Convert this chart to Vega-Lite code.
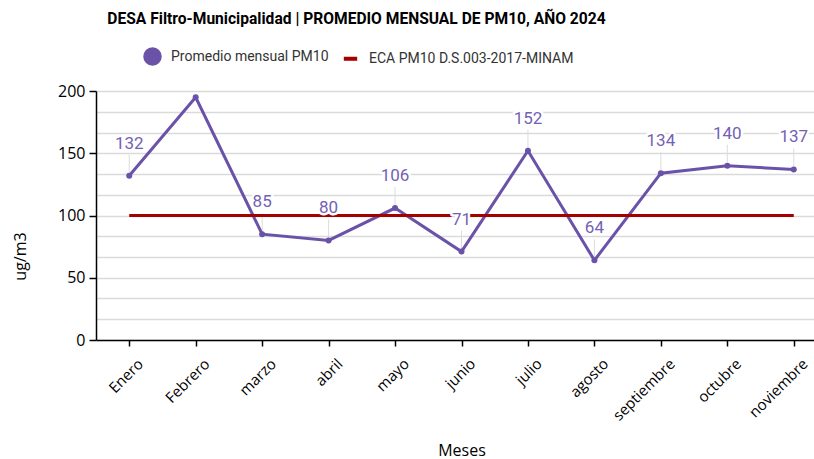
{
  "$schema": "https://vega.github.io/schema/vega-lite/v6.json",
  "width": 731,
  "height": 249,
  "autosize": {"type": "none"},
  "padding": {"left": 96, "top": 91, "right": 10, "bottom": 119},
  "background": "white",
  "title": {
    "text": "DESA Filtro-Municipalidad | PROMEDIO MENSUAL DE PM10, AÑO 2024",
    "font": "Roboto",
    "fontSize": 15.6,
    "fontWeight": "bold",
    "color": "black",
    "anchor": "middle",
    "frame": "group",
    "dx": -105,
    "offset": 19
  },
  "config": {"view": {"stroke": null}},
  "data": {
    "values": [
      {"mes": "Enero", "serie": "Promedio mensual PM10", "valor": 132},
      {"mes": "Febrero", "serie": "Promedio mensual PM10", "valor": 195},
      {"mes": "marzo", "serie": "Promedio mensual PM10", "valor": 85},
      {"mes": "abril", "serie": "Promedio mensual PM10", "valor": 80},
      {"mes": "mayo", "serie": "Promedio mensual PM10", "valor": 106},
      {"mes": "junio", "serie": "Promedio mensual PM10", "valor": 71},
      {"mes": "julio", "serie": "Promedio mensual PM10", "valor": 152},
      {"mes": "agosto", "serie": "Promedio mensual PM10", "valor": 64},
      {"mes": "septiembre", "serie": "Promedio mensual PM10", "valor": 134},
      {"mes": "octubre", "serie": "Promedio mensual PM10", "valor": 140},
      {"mes": "noviembre", "serie": "Promedio mensual PM10", "valor": 137},
      {"mes": "Enero", "serie": "ECA PM10 D.S.003-2017-MINAM", "valor": 100},
      {"mes": "Febrero", "serie": "ECA PM10 D.S.003-2017-MINAM", "valor": 100},
      {"mes": "marzo", "serie": "ECA PM10 D.S.003-2017-MINAM", "valor": 100},
      {"mes": "abril", "serie": "ECA PM10 D.S.003-2017-MINAM", "valor": 100},
      {"mes": "mayo", "serie": "ECA PM10 D.S.003-2017-MINAM", "valor": 100},
      {"mes": "junio", "serie": "ECA PM10 D.S.003-2017-MINAM", "valor": 100},
      {"mes": "julio", "serie": "ECA PM10 D.S.003-2017-MINAM", "valor": 100},
      {"mes": "agosto", "serie": "ECA PM10 D.S.003-2017-MINAM", "valor": 100},
      {"mes": "septiembre", "serie": "ECA PM10 D.S.003-2017-MINAM", "valor": 100},
      {"mes": "octubre", "serie": "ECA PM10 D.S.003-2017-MINAM", "valor": 100},
      {"mes": "noviembre", "serie": "ECA PM10 D.S.003-2017-MINAM", "valor": 100}
    ]
  },
  "encoding": {
    "x": {
      "field": "mes",
      "type": "nominal",
      "sort": ["Enero", "Febrero", "marzo", "abril", "mayo", "junio", "julio", "agosto", "septiembre", "octubre", "noviembre"],
      "scale": {"type": "point", "padding": 0.5},
      "axis": {
        "title": "Meses",
        "titleFont": "Open Sans",
        "titleFontSize": 16,
        "titleFontWeight": "normal",
        "titleColor": "black",
        "titleY": 110,
        "titleBaseline": "middle",
        "labelAngle": -45,
        "labelFont": "Open Sans",
        "labelFontSize": 15,
        "labelColor": "black",
        "labelPadding": 10,
        "labelOffset": 6,
        "domainColor": "black",
        "domainWidth": 1.5,
        "tickColor": "black",
        "tickWidth": 1.5,
        "tickSize": 6,
        "grid": false
      }
    },
    "y": {
      "field": "valor",
      "type": "quantitative",
      "scale": {"domain": [0, 200], "nice": false},
      "axis": {
        "title": "ug/m3",
        "titleFont": "Open Sans",
        "titleFontSize": 16,
        "titleFontWeight": "normal",
        "titleColor": "black",
        "titleX": -76,
        "titleY": 165,
        "titleBaseline": "middle",
        "titleAlign": "center",
        "values": [0, 16.666666666666668, 33.333333333333336, 50, 66.66666666666667, 83.33333333333333, 100, 116.66666666666667, 133.33333333333334, 150, 166.66666666666666, 183.33333333333334, 200],
        "labelExpr": "abs(datum.value/50 - round(datum.value/50)) < 0.001 ? format(datum.value, 'd') : ''",
        "tickOpacity": {"condition": {"test": "abs(datum.value/50 - round(datum.value/50)) < 0.001", "value": 1}, "value": 0},
        "grid": true,
        "gridColor": "#dadada",
        "gridWidth": 1.5,
        "domainColor": "black",
        "domainWidth": 1.5,
        "tickColor": "black",
        "tickWidth": 1.5,
        "tickSize": 7,
        "labelFont": "Open Sans",
        "labelFontSize": 16,
        "labelColor": "black",
        "labelPadding": 4
      }
    }
  },
  "layer": [
    {
      "transform": [{"filter": "datum.serie === 'Promedio mensual PM10' && datum.valor < 180"}],
      "mark": {"type": "rule", "color": "#dcdcdc", "strokeWidth": 1, "yOffset": -3, "y2Offset": -21},
      "encoding": {"y2": {"field": "valor"}}
    },
    {
      "mark": {"type": "line", "strokeWidth": 3},
      "encoding": {
        "color": {
          "field": "serie",
          "type": "nominal",
          "scale": {"domain": ["Promedio mensual PM10", "ECA PM10 D.S.003-2017-MINAM"], "range": ["#6a52a8", "#a50000"]},
          "legend": {
            "orient": "none",
            "legendX": 47,
            "legendY": -44,
            "direction": "horizontal",
            "title": null,
            "labelFont": "Roboto",
            "labelFontSize": 14,
            "labelColor": "#333333",
            "labelLimit": 400,
            "symbolSize": 289,
            "labelOffset": 9,
            "columnPadding": 12,
            "encode": {
              "symbols": {
                "update": {
                  "shape": {"signal": "datum.value === 'ECA PM10 D.S.003-2017-MINAM' ? 'M-0.7,-0.16H0.7V0.16H-0.7Z' : 'circle'"},
                  "fill": {"signal": "datum.value === 'ECA PM10 D.S.003-2017-MINAM' ? '#a50000' : '#6a52a8'"},
                  "stroke": {"value": "transparent"},
                  "opacity": {"value": 1}
                }
              }
            }
          }
        }
      }
    },
    {
      "transform": [{"filter": "datum.serie === 'Promedio mensual PM10'"}],
      "mark": {"type": "circle", "size": 36, "color": "#6a52a8", "opacity": 1}
    },
    {
      "transform": [{"filter": "datum.serie === 'Promedio mensual PM10' && datum.valor < 180"}],
      "mark": {"type": "text", "font": "Roboto", "fontSize": 17, "baseline": "alphabetic", "dy": -27, "stroke": "white", "strokeWidth": 5, "strokeJoin": "round", "color": "white"},
      "encoding": {"text": {"field": "valor", "type": "quantitative"}}
    },
    {
      "transform": [{"filter": "datum.serie === 'Promedio mensual PM10' && datum.valor < 180"}],
      "mark": {"type": "text", "font": "Roboto", "fontSize": 17, "baseline": "alphabetic", "dy": -27, "color": "#7361b5"},
      "encoding": {"text": {"field": "valor", "type": "quantitative"}}
    }
  ]
}
